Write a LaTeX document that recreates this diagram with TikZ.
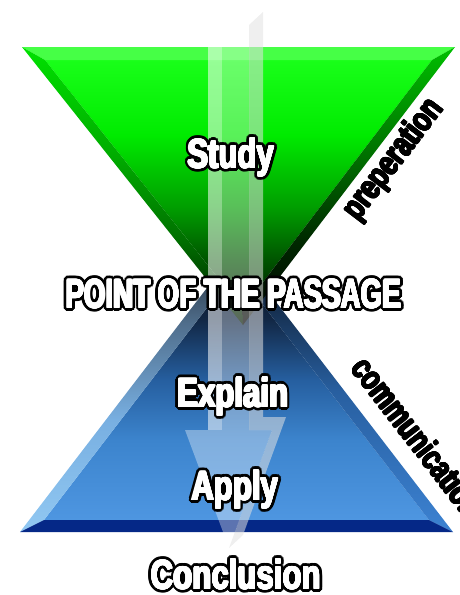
\documentclass[tikz,border=0pt]{standalone}
\usepackage{fontspec}
\usepackage{graphicx}
\usepackage{tikz}
\usetikzlibrary{calc}

\newfontfamily\impactfont[FakeStretch=0.76]{Liberation Sans}

% colours of the two funnels
\definecolor{gfA}{RGB}{0,25,0}
\definecolor{gfB}{RGB}{0,85,0}
\definecolor{gfC}{RGB}{0,155,0}
\definecolor{gfD}{RGB}{0,235,0}
\definecolor{gfE}{RGB}{25,255,25}
\definecolor{glA}{RGB}{0,20,0}
\definecolor{glB}{RGB}{0,110,0}
\definecolor{glC}{RGB}{0,170,0}
\definecolor{glD}{RGB}{0,225,0}
\definecolor{grA}{RGB}{0,0,0}
\definecolor{grB}{RGB}{0,40,0}
\definecolor{grC}{RGB}{0,110,0}
\definecolor{grD}{RGB}{0,190,0}
\definecolor{greentop}{RGB}{70,255,70}
\definecolor{bfA}{RGB}{78,150,225}
\definecolor{bfB}{RGB}{60,132,205}
\definecolor{bfC}{RGB}{38,95,160}
\definecolor{bfD}{RGB}{18,40,70}
\definecolor{bfE}{RGB}{8,14,25}
\definecolor{blA}{RGB}{145,200,242}
\definecolor{blB}{RGB}{120,175,225}
\definecolor{blC}{RGB}{80,110,140}
\definecolor{blD}{RGB}{30,40,50}
\definecolor{brA}{RGB}{60,130,210}
\definecolor{brB}{RGB}{40,95,160}
\definecolor{brC}{RGB}{15,30,50}
\definecolor{brD}{RGB}{8,12,20}
\definecolor{navyband}{RGB}{5,40,135}
\definecolor{arrowgray}{RGB}{225,225,225}

\pgfdeclareverticalshading{greenface}{100bp}{color(0bp)=(gfA); color(25bp)=(gfA);
  color(35bp)=(gfB); color(45bp)=(gfC); color(60bp)=(gfD); color(75bp)=(gfE); color(100bp)=(gfE)}
\pgfdeclareverticalshading{greenleft}{100bp}{color(0bp)=(glA); color(25bp)=(glA);
  color(40bp)=(glB); color(55bp)=(glC); color(75bp)=(glD); color(100bp)=(glD)}
\pgfdeclareverticalshading{greenright}{100bp}{color(0bp)=(grA); color(25bp)=(grA);
  color(40bp)=(grB); color(55bp)=(grC); color(75bp)=(grD); color(100bp)=(grD)}
\pgfdeclareverticalshading{blueface}{100bp}{color(0bp)=(bfA); color(25bp)=(bfA);
  color(41bp)=(bfB); color(53bp)=(bfC); color(65bp)=(bfD); color(75bp)=(bfE); color(100bp)=(bfE)}
\pgfdeclareverticalshading{blueleft}{100bp}{color(0bp)=(blA); color(25bp)=(blA);
  color(45bp)=(blB); color(62bp)=(blC); color(75bp)=(blD); color(100bp)=(blD)}
\pgfdeclareverticalshading{blueright}{100bp}{color(0bp)=(brA); color(25bp)=(brA);
  color(50bp)=(brB); color(70bp)=(brC); color(75bp)=(brD); color(100bp)=(brD)}

% copies of a text round a ring: radius, colour, text
\newcommand{\ringtext}[3]{%
  \foreach \ang in {0,22.5,...,337.5}{%
    \rlap{\hspace*{\fpeval{#1*cosd(\ang)}pt}\raisebox{\fpeval{#1*sind(\ang)}pt}{\color{#2}#3}}}}
% heavy white text with a black halo
\newcommand{\halotext}[1]{%
  \ringtext{3.6}{black}{#1}\ringtext{2.2}{black}{#1}\ringtext{0.75}{white}{#1}%
  {\color{white}#1}}
% heavy black text
\newcommand{\heavytext}[1]{\ringtext{0.7}{black}{#1}#1}

\begin{document}
\begin{tikzpicture}[
        x=1pt, y=-1pt,
        every node/.style={inner sep=0pt},
        stage text/.style={font=\impactfont\bfseries\fontsize{41}{41}\selectfont, anchor=base},
        side text/.style={font=\impactfont\bfseries\fontsize{34}{34}\selectfont, text=black},
        arrow front/.style={fill=white, opacity=0.35},
        arrow shine/.style={fill=white, opacity=0.3},
        arrow side/.style={fill=arrowgray, opacity=0.55}
    ]
    \useasboundingbox (0,0) rectangle (459,595);

    % bottom funnel
    \coordinate (ba) at (236,250);
    \coordinate (bl) at (20,532);
    \coordinate (br) at (453,532);
    \coordinate (bia) at (236,270);
    \coordinate (bil) at (44,520);
    \coordinate (bir) at (429,520);
    \shade[shading=blueface] (bia) -- (bil) -- (bir) -- cycle;
    \shade[shading=blueleft] (ba) -- (bl) -- (bil) -- (bia) -- cycle;
    \shade[shading=blueright] (ba) -- (bia) -- (bir) -- (br) -- cycle;
    \fill[navyband] (bl) -- (br) -- (bir) -- (bil) -- cycle;

    % top funnel
    \coordinate (tl) at (22,47);
    \coordinate (tr) at (455,47);
    \coordinate (tb) at (243,325);
    \coordinate (til) at (45,60);
    \coordinate (tir) at (432,60);
    \coordinate (tib) at (242.6,309);
    \shade[shading=greenface] (til) -- (tir) -- (tib) -- cycle;
    \fill[greentop] (tl) -- (tr) -- (tir) -- (til) -- cycle;
    \shade[shading=greenleft] (tl) -- (til) -- (tib) -- (tb) -- cycle;
    \shade[shading=greenright] (tr) -- (tb) -- (tib) -- (tir) -- cycle;

    % arrow down the middle
    \fill[arrow side] (249,25) -- (263,12) -- (263,417) -- (286,417) -- (243,535)
        -- (229,548) -- (272,430) -- (249,430) -- cycle;
    \fill[arrow front] (208,25) -- (249,25) -- (249,430) -- (272,430) -- (229,548)
        -- (185,430) -- (208,430) -- cycle;
    \fill[arrow shine] (208,25) -- (222,25) -- (222,430) -- (208,430) -- cycle;

    % stages
    \node[stage text] (study) at (231,168) {\halotext{Study}};
    \node[stage text] (point) at (233.5,308) {\halotext{\scalebox{0.89}[1]{POINT OF THE PASSAGE}}};
    \node[stage text] (explain) at (233,407) {\halotext{Explain}};
    \node[stage text] (apply) at (235,500) {\halotext{Apply}};
    \node[stage text] (conclusion) at (236,589) {\halotext{Conclusion}};

    % side labels
    \node[side text, rotate=52.7] (prep) at (394,160) {\heavytext{preperation}};
    \node[side text, rotate=-52.4] (comm) at (418,437) {\heavytext{communication}};
\end{tikzpicture}
\end{document}
